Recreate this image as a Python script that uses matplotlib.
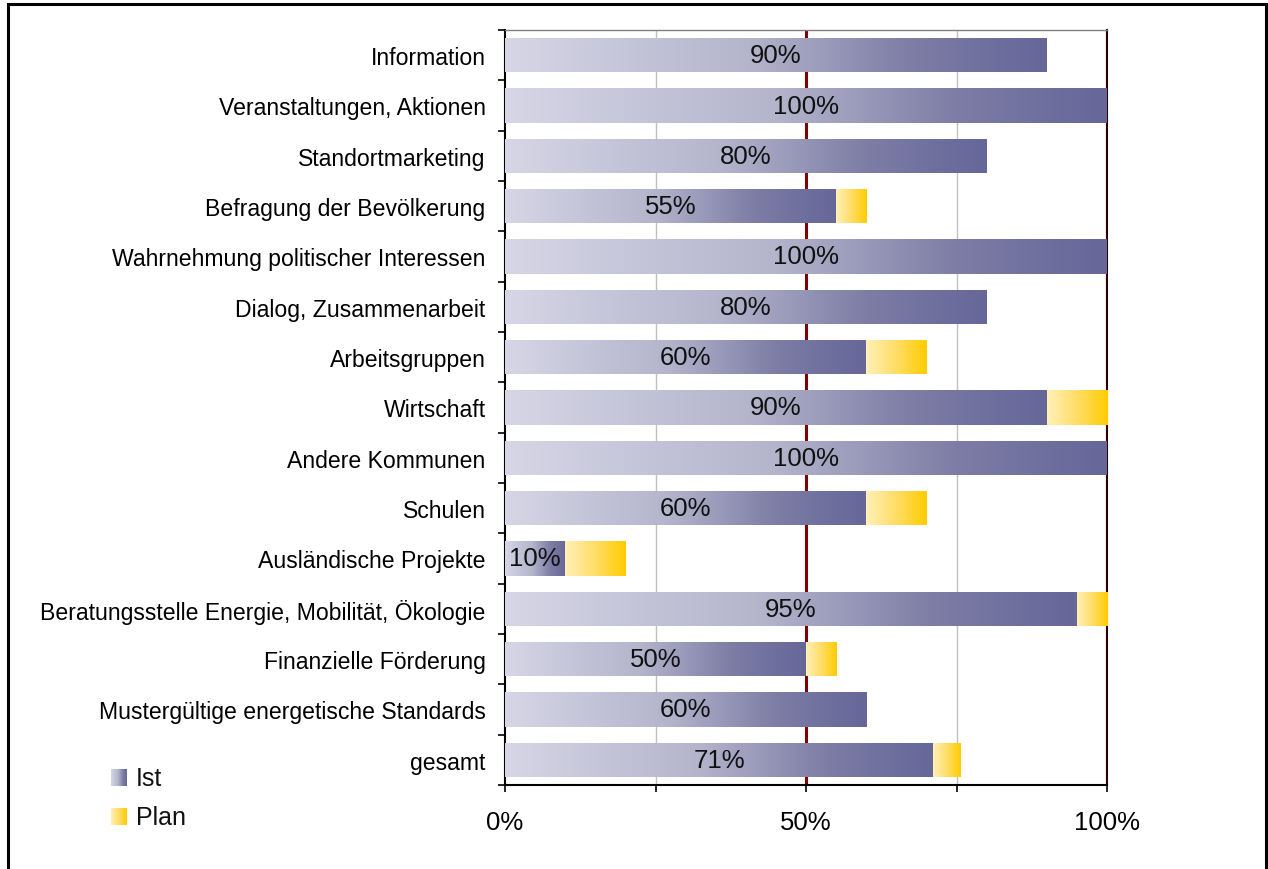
import numpy as np
import matplotlib
matplotlib.use("Agg")
import matplotlib.pyplot as plt
from matplotlib.colors import LinearSegmentedColormap
from matplotlib.patches import Rectangle

categories = ["Information", "Veranstaltungen, Aktionen", "Standortmarketing",
              "Befragung der Bevölkerung", "Wahrnehmung politischer Interessen",
              "Dialog, Zusammenarbeit", "Arbeitsgruppen", "Wirtschaft",
              "Andere Kommunen", "Schulen", "Ausländische Projekte",
              "Beratungsstelle Energie, Mobilität, Ökologie", "Finanzielle Förderung",
              "Mustergültige energetische Standards", "gesamt"]
ist = [90, 100, 80, 55, 100, 80, 60, 90, 100, 60, 10, 95, 50, 60, 71.1]
plan = [0, 0, 0, 5, 0, 0, 10, 10, 0, 10, 10, 5, 5, 0, 4.6]
ist_labels = ["90%", "100%", "80%", "55%", "100%", "80%", "60%", "90%", "100%",
              "60%", "10%", "95%", "50%", "60%", "71%"]
xticks = [0, 25, 50, 75, 100]
xticklabels = ["0%", "", "50%", "", "100%"]
legend_labels = ["Ist", "Plan"]

plt.rcParams['font.family'] = ['Liberation Sans', 'DejaVu Sans']

cmap_ist = LinearSegmentedColormap.from_list(
    "ist", [(0, "#D6D6E6"), (0.45, "#B4B4CC"), (0.75, "#7D7DA6"), (1, "#666699")])
cmap_plan = LinearSegmentedColormap.from_list(
    "plan", [(0, "#FFF0B8"), (0.5, "#FFDD66"), (1, "#FFCC00")])

fig = plt.figure(figsize=(12.68, 8.70), dpi=100)
ax = fig.add_axes([505/1268, 1-786/870, (1107-505)/1268, (786-31)/870])

y = np.arange(len(categories))
grad = np.linspace(0, 1, 256).reshape(1, -1)

bars_ist = ax.barh(y, ist, height=0.68, color="none", edgecolor="none", zorder=3)
bars_plan = ax.barh(y, plan, left=ist, height=0.68, color="none", edgecolor="none", zorder=3)

for bars, cmap in ((bars_ist, cmap_ist), (bars_plan, cmap_plan)):
    for p in bars:
        w = p.get_width()
        if w <= 0:
            continue
        x0, y0, h = p.get_x(), p.get_y(), p.get_height()
        im = ax.imshow(grad, cmap=cmap, aspect="auto", extent=(x0, x0 + w, y0 + h, y0),
                       interpolation="bicubic", zorder=3)
        im.set_clip_path(p)

for yi, v, lab in zip(y, ist, ist_labels):
    ax.text(v / 2, yi, lab, ha="center", va="center", fontsize=18.5, color="#111111", zorder=5)

ax.set_xlim(0, 100)
ax.set_ylim(len(categories) - 0.5, -0.5)

for gx in xticks[1:]:
    if gx in (50, 100):
        ax.axvline(gx, color="#800000", lw=2.2, zorder=1)
    else:
        ax.axvline(gx, color="#C0C0C0", lw=1.0, zorder=1)

ax.set_xticks(xticks)
ax.set_xticklabels(xticklabels, fontsize=18.5)
ax.tick_params(axis="x", direction="out", length=5, width=1.2, pad=13, color="black")

ax.set_yticks(y)
ax.set_yticklabels(categories, fontsize=16.6, color="black")
ax.tick_params(axis="y", length=0, pad=14)
ax.set_yticks(np.arange(len(categories) + 1) - 0.5, minor=True)
ax.tick_params(axis="y", which="minor", direction="out", length=5, width=1.2, color="black")

ax.spines["left"].set_color("black")
ax.spines["left"].set_linewidth(1.5)
ax.spines["bottom"].set_color("black")
ax.spines["bottom"].set_linewidth(1.5)
ax.spines["top"].set_color("#808080")
ax.spines["top"].set_linewidth(1.0)
ax.spines["right"].set_color("#2a0000")
ax.spines["right"].set_linewidth(1.5)
ax.set_facecolor("white")

# legend
for i, (lab, cmap) in enumerate(zip(legend_labels, (cmap_ist, cmap_plan))):
    top = 770 + i * 39
    lax = fig.add_axes([111/1268, 1 - (top + 17)/870, 16/1268, 17/870])
    lax.imshow(grad, cmap=cmap, aspect="auto", interpolation="bicubic")
    lax.set_axis_off()
    fig.text(136/1268, 1 - (top + 9)/870, lab, fontsize=18, va="center", ha="left", color="#111111")

# outer border
fig.patches.append(Rectangle((8/1268, -0.05), (1266-8)/1268, 1.05 - 5/870, transform=fig.transFigure,
                             fill=False, edgecolor="black", lw=2.2, clip_on=False))

fig.savefig("out.png", dpi=100, facecolor="white")
